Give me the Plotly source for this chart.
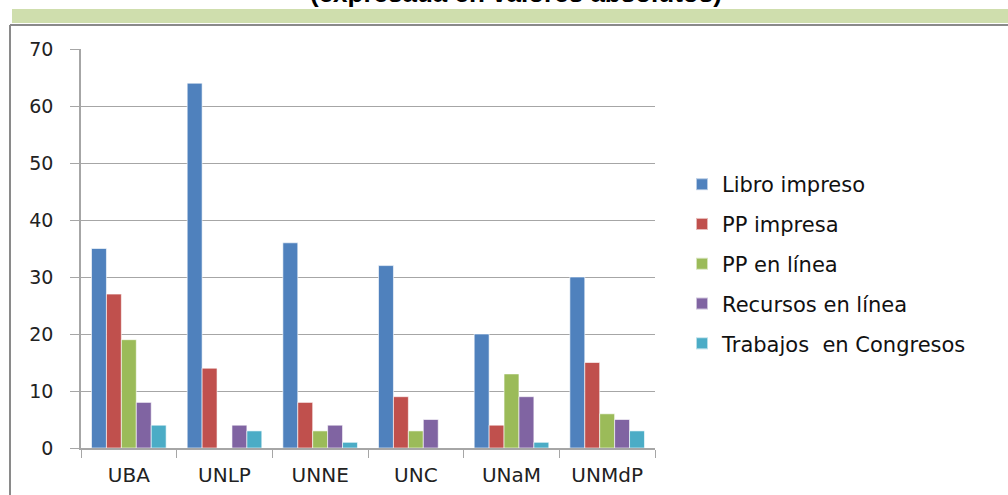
import plotly.graph_objects as go

categories = ["UBA", "UNLP", "UNNE", "UNC", "UNaM", "UNMdP"]
series_names = ["Libro impreso", "PP impresa", "PP en línea", "Recursos en línea", "Trabajos  en Congresos"]
libro_impreso = [35, 64, 36, 32, 20, 30]
pp_impresa = [27, 14, 8, 9, 4, 15]
pp_en_linea = [19, 0, 3, 3, 13, 6]
recursos_en_linea = [8, 4, 4, 5, 9, 5]
trabajos_congresos = [4, 3, 1, 0, 1, 3]
y_ticks = [0, 10, 20, 30, 40, 50, 60, 70]

series_values = [libro_impreso, pp_impresa, pp_en_linea, recursos_en_linea, trabajos_congresos]
colors = ["#4F81BD", "#C0504D", "#9BBB59", "#8064A2", "#4BACC6"]

W, H = 1008, 495
L, R, T, B = 81, 1008 - 655, 49, 495 - 448
pw, ph = W - L - R, H - T - B

def px_x(x):
    return (x - L) / pw

def px_y(y):
    return 1 - (y - T) / ph

fig = go.Figure()
for i, (name, vals) in enumerate(zip(series_names, series_values)):
    fig.add_trace(go.Bar(
        x=categories, y=vals, name=name, legendgroup=f"g{i}",
        marker=dict(color=colors[i], line=dict(color="rgba(255,255,255,0.6)", width=1)),
    ))

fig.update_layout(
    width=W, height=H,
    margin=dict(l=L, r=R, t=T, b=B, autoexpand=False),
    paper_bgcolor="white", plot_bgcolor="white",
    barmode="group", bargap=0.22, bargroupgap=0,
    font=dict(family="DejaVu Sans", size=16, color="#222"),
    legend=dict(
        x=px_x(682), y=px_y(164), xanchor="left", yanchor="top",
        font=dict(family="DejaVu Sans", size=21, color="#111"),
        tracegroupgap=9.5, itemsizing="constant", bgcolor="rgba(0,0,0,0)",
    ),
    showlegend=True,
    xaxis=dict(
        automargin=False,
        showline=True, linecolor="#A6A6A6", linewidth=1.5,
        ticks="outside", tickson="boundaries", ticklen=8, tickcolor="#A6A6A6",
        tickfont=dict(family="DejaVu Sans", size=20, color="#222"),
        ticklabelstandoff=8,
        showgrid=False,
    ),
    yaxis=dict(
        automargin=False,
        range=[0, 70], tickvals=y_ticks,
        showline=True, linecolor="#A6A6A6", linewidth=1.5,
        ticks="outside", ticklen=9, tickcolor="#A6A6A6",
        showgrid=True, gridcolor="#A6A6A6", gridwidth=1,
        tickfont=dict(family="DejaVu Sans", size=19, color="#222"),
        ticklabelstandoff=13,
        zeroline=False,
    ),
    shapes=[
        dict(type="rect", xref="paper", yref="paper",
             x0=px_x(12), x1=px_x(1010), y0=px_y(23), y1=px_y(9),
             fillcolor="#CFDEAD", line=dict(width=0), layer="below"),
        dict(type="line", xref="paper", yref="paper",
             x0=px_x(10), x1=px_x(1010), y0=px_y(25), y1=px_y(25),
             line=dict(color="#8A8A8A", width=2)),
        dict(type="line", xref="paper", yref="paper",
             x0=px_x(10), x1=px_x(10), y0=px_y(25), y1=px_y(500),
             line=dict(color="#8A8A8A", width=2)),
    ],
    annotations=[
        dict(text="<b>(expresada en valores absolutos)</b>", xref="paper", yref="paper",
             x=px_x(516), y=px_y(-7), xanchor="center", yanchor="middle",
             showarrow=False, font=dict(family="Liberation Sans", size=26, color="#000")),
    ],
)

fig.write_html("out.html", config={"displayModeBar": False},
               post_script="document.body.style.margin='0';document.body.style.padding='0';")
